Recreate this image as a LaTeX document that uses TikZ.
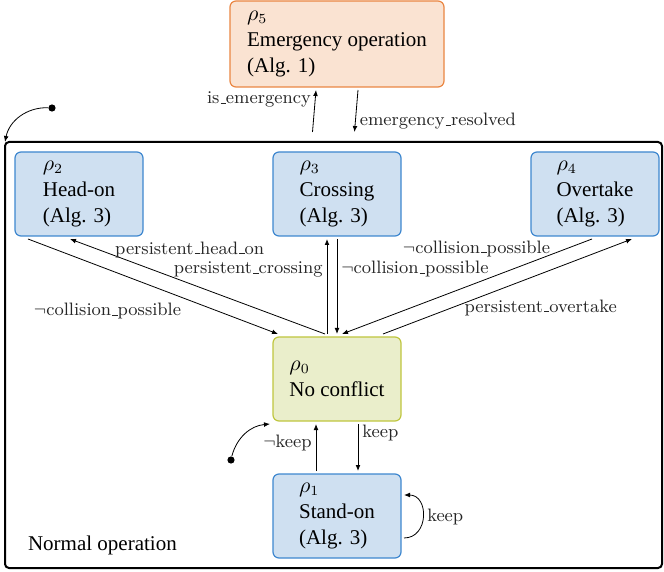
\documentclass[tikz,border=0pt]{standalone}
\usepackage{amsmath}
\usepackage[no-math]{fontspec}
\setmainfont{Liberation Serif}
\newfontfamily\statefont{Liberation Serif}
\usetikzlibrary{arrows.meta}

\definecolor{FillBlue}{HTML}{CFE0F1}
\definecolor{LineBlue}{HTML}{3E87CF}
\definecolor{FillGreen}{HTML}{EAEECB}
\definecolor{LineGreen}{HTML}{BFC63F}
\definecolor{FillOrange}{HTML}{FAE3D2}
\definecolor{LineOrange}{HTML}{EA8642}

\newcommand{\usc}{\kern.06em\vbox{\hrule width.3em}}

\begin{document}
\begin{tikzpicture}[x=0.5pt,y=-0.5pt,>={Latex[length=3pt,width=2.4pt]}]
                \tikzset{StateStyle/.style={draw, rounded corners=3pt, line width=0.6pt, minimum width=64pt, minimum height=42pt,
                    inner sep=2pt, outer sep=1.5pt, align=left, font=\statefont\fontsize{10.5}{13}\selectfont}}
                \tikzset{BlueState/.style={StateStyle, draw=LineBlue, fill=FillBlue}}
                \tikzset{GreenState/.style={StateStyle, draw=LineGreen, fill=FillGreen}}
                \tikzset{OrangeState/.style={StateStyle, draw=LineOrange, fill=FillOrange, minimum width=107pt, minimum height=43pt}}
                \tikzset{LabelStyle/.style={font=\fontfamily{lmr}\fontsize{9}{11}\selectfont, text=black!85, inner sep=2pt}}
                \tikzset{InitDot/.style={circle, fill, inner sep=0pt, minimum size=3.6pt}}
                \useasboundingbox (0,0) rectangle (664,572);
                \node[draw, line width=1pt, rounded corners=2pt, minimum width=328.5pt, minimum height=213pt,
                    inner sep=0pt, outer sep=0pt] (normal) at (333.5,355) {};
                \node[anchor=west, font=\statefont\fontsize{10.5}{13}\selectfont] (normlabel) at (21,545) {Normal operation};
                \node[OrangeState] (rho5) at (337,44) {$\rho_5$\\Emergency operation\\(Alg. 1)};
                \node[BlueState] (rho2) at (79,194) {$\rho_2$\\Head-on\\(Alg. 3)};
                \node[BlueState] (rho3) at (337,194) {$\rho_3$\\Crossing\\(Alg. 3)};
                \node[BlueState] (rho4) at (595,194) {$\rho_4$\\Overtake\\(Alg. 3)};
                \node[GreenState] (rho0) at (337,379) {$\rho_0$\\No conflict};
                \node[BlueState] (rho1) at (337,516) {$\rho_1$\\Stand-on\\(Alg. 3)};
                \node[InitDot] (init5) at (52,108) {};
                \node[InitDot] (init0) at (231,460) {};
                \draw[->] (init5) to[bend right=40] (normal.north west);
                \draw[->] (init0) to[bend left=35] (rho0.south west);
                \draw[->] ([xshift=-10.5pt,yshift=5pt]normal.north) -- node[LabelStyle, pos=0.77, left] {is\usc emergency} ([xshift=-10.5pt]rho5.south);
                \draw[->] ([xshift=10.5pt]rho5.south) -- node[LabelStyle, pos=0.75, right] {emergency\usc resolved} ([xshift=10.5pt,yshift=5pt]normal.north);
                \draw[->] ([xshift=-25.5pt]rho2.south) -- node[LabelStyle, pos=0.63, anchor=north east] {$\neg$collision\usc possible} ([xshift=-29.5pt]rho0.north);
                \draw[->] ([xshift=-6pt]rho0.north) -- node[LabelStyle, pos=0.84, anchor=base west] {persistent\usc head\usc on} ([xshift=-4.5pt]rho2.south);
                \draw[->] ([xshift=-5pt]rho0.north) -- node[LabelStyle, pos=0.68, left] {persistent\usc crossing} ([xshift=-5pt]rho3.south);
                \draw[->] (rho3.south) -- node[LabelStyle, pos=0.32, right] {$\neg$collision\usc possible} (rho0.north);
                \draw[->] ([xshift=-1.5pt]rho4.south) -- node[LabelStyle, pos=0.15, anchor=base east] {$\neg$collision\usc possible} ([xshift=2.5pt]rho0.north);
                \draw[->] ([xshift=23pt]rho0.north) -- node[LabelStyle, pos=0.31, anchor=west, yshift=-1.5pt] {persistent\usc overtake} ([xshift=18.5pt]rho4.south);
                \draw[->] ([xshift=-10.5pt]rho1.north) -- node[LabelStyle, pos=0.6, left] {$\neg$keep} ([xshift=-10.5pt]rho0.south);
                \draw[->] ([xshift=10.5pt]rho0.south) -- node[LabelStyle, pos=0.2, right] {keep} ([xshift=10.5pt]rho1.north);
                \draw[->] ([yshift=-11pt]rho1.east) to[out=0, in=0, looseness=1.5] node[LabelStyle, right] {keep} ([yshift=10.5pt]rho1.east);
            \end{tikzpicture}
\end{document}
